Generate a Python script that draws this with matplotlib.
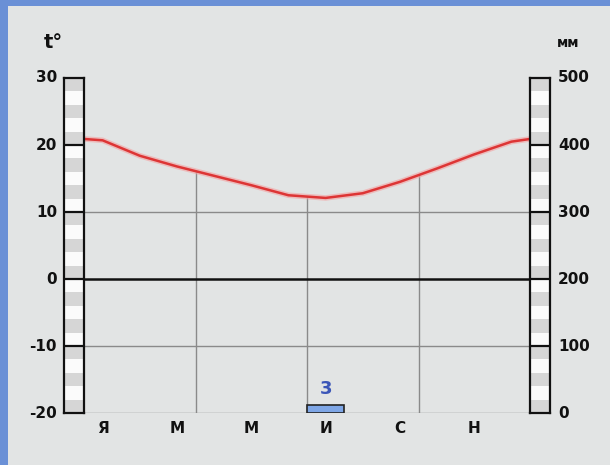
import matplotlib
matplotlib.use("Agg")
import matplotlib.pyplot as plt
from matplotlib.patches import Rectangle
import numpy as np

# ---- data ----
months = ["Я", "Ф", "М", "А", "М", "И", "И", "А", "С", "О", "Н", "Д"]
month_labels_shown = ["Я", "М", "М", "И", "С", "Н"]
temp = [20.7, 18.4, 16.8, 15.4, 14.0, 12.5, 12.1, 12.8, 14.5, 16.5, 18.6, 20.5]
temp_edge = 20.9
precip = [0, 0, 0, 0, 0, 0, 3, 0, 0, 0, 0, 0]
t_ticks = [30, 20, 10, 0, -10, -20]
p_ticks = [500, 400, 300, 200, 100, 0]

W, H = 610, 465
fig = plt.figure(figsize=(W / 100, H / 100), dpi=100)
fig.patch.set_facecolor("#e2e4e4")

def fx(px):
    return px / W

def fy(py):
    return 1 - py / H

# blue frame on top and left
fig.patches.append(Rectangle((0, fy(6)), 1, 6 / H, transform=fig.transFigure,
                             facecolor="#6a90d6", edgecolor="none", zorder=0))
fig.patches.append(Rectangle((0, 0), 8 / W, 1, transform=fig.transFigure,
                             facecolor="#6a90d6", edgecolor="none", zorder=0))

x0, x1, ytop, ybot = 84, 530, 78, 413
ax = fig.add_axes([fx(x0), fy(ybot), fx(x1 - x0), (ybot - ytop) / H])
ax.set_xlim(0, 12)
ax.set_ylim(-20, 30)
ax.set_facecolor("none")
for s in ax.spines.values():
    s.set_visible(False)
ax.set_xticks([])
ax.set_yticks([])

# horizontal grid
for v in [10, -10, -20]:
    ax.axhline(v, color="#8a8a8a", lw=1.0, zorder=1)
ax.axhline(0, color="#111111", lw=1.8, zorder=2)

# temperature curve points
xs = [0] + [i + 0.5 for i in range(12)] + [12]
ys = [temp_edge] + temp + [temp_edge]

# vertical grid lines up to the curve
for k in [3, 6, 9]:
    yv = np.interp(k, xs, ys)
    ax.plot([k, k], [-20, yv], color="#8a8a8a", lw=1.0, zorder=1)

ax.plot(xs, ys, color="#f4a0a0", lw=4, alpha=0.6, zorder=3, solid_capstyle="round")
ax.plot(xs, ys, color="#dd3535", lw=1.8, zorder=4, solid_capstyle="round")

# precipitation on right scale
axp = ax.twinx()
axp.set_ylim(0, 500)
axp.set_yticks([])
for s in axp.spines.values():
    s.set_visible(False)
min_vis = 12
for i, p in enumerate(precip):
    if p > 0:
        axp.bar(i + 0.5, max(p, min_vis), width=1.0, color="#7ea6e6",
                edgecolor="#222222", lw=1.2, zorder=5)
        axp.text(i + 0.5, max(p, min_vis) + 10, str(p), ha="center", va="bottom",
                 color="#3b56b8", fontsize=13, fontweight="bold")

# striped scale bars
def striped(left_px):
    a = fig.add_axes([fx(left_px), fy(ybot), fx(20), (ybot - ytop) / H])
    a.set_xlim(0, 1)
    a.set_ylim(-20, 30)
    for j, lo in enumerate(range(28, -22, -2)):
        a.add_patch(Rectangle((0, lo), 1, 2,
                              facecolor="#d6d6d6" if j % 2 == 0 else "#fbfbfb",
                              edgecolor="none"))
    for v in [20, 10, 0, -10]:
        a.axhline(v, color="#111111", lw=1.6)
    for s in a.spines.values():
        s.set_color("#111111")
        s.set_linewidth(1.6)
    a.set_xticks([])
    a.set_yticks([])
    return a

striped(64)
striped(530)

# tick labels
def y_of_t(t):
    return ytop + (30 - t) * (ybot - ytop) / 50

for t in t_ticks:
    fig.text(fx(57), fy(y_of_t(t)), str(t), ha="right", va="center",
             fontsize=11, fontweight="bold", color="#111111")
for p, t in zip(p_ticks, t_ticks):
    fig.text(fx(558), fy(y_of_t(t)), str(p), ha="left", va="center",
             fontsize=11, fontweight="bold", color="#111111")

for j, lab in enumerate(month_labels_shown):
    mi = 2 * j
    ax.text(mi + 0.5, -22.3, lab, ha="center", va="center",
            fontsize=11, fontweight="bold", color="#111111", clip_on=False)

fig.text(fx(53), fy(42), "t°", ha="center", va="center",
         fontsize=14, fontweight="bold", color="#111111")
fig.text(fx(568), fy(43), "мм", ha="center", va="center",
         fontsize=10, fontweight="bold", color="#111111")

fig.savefig("out.png", dpi=100, facecolor=fig.get_facecolor())
